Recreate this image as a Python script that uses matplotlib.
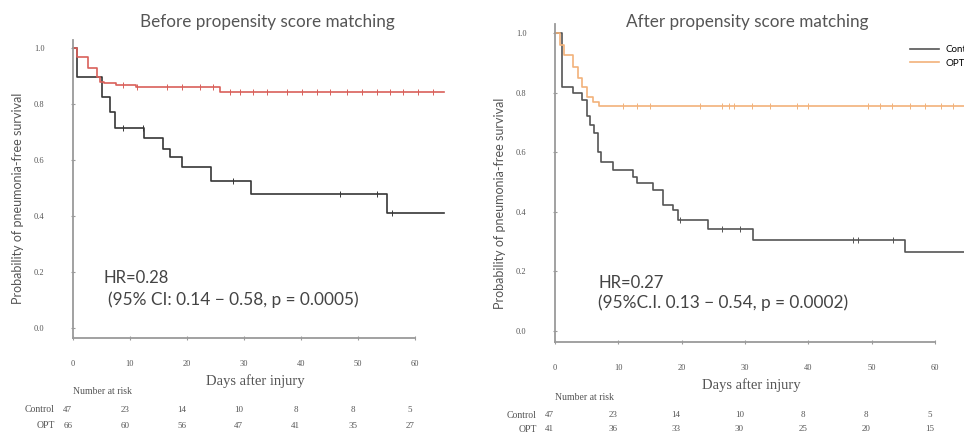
import numpy as np
import matplotlib.pyplot as plt
import matplotlib.transforms as mtransforms

# Kaplan-Meier step data (days, survival after step)
before_ctrl_t = [0, 0.7, 5.1, 6.5, 7.4, 12.5, 15.8, 17, 19.1, 24.2, 31.2, 55.0, 65]
before_ctrl_s = [1.0, 0.896, 0.825, 0.77, 0.714, 0.68, 0.64, 0.61, 0.575, 0.525, 0.48, 0.41, 0.41]
before_ctrl_cens = [8.8, 12.3, 28.0, 46.8, 53.3, 56.0]

before_opt_t = [0, 0.7, 2.6, 4.2, 4.8, 5.5, 7.5, 11, 25.8, 65]
before_opt_s = [1.0, 0.968, 0.93, 0.896, 0.88, 0.875, 0.868, 0.86, 0.843, 0.843]
before_opt_cens = [8.8, 11.2, 16.5, 19.1, 22.3, 24.6, 27.5, 29.3, 31.6, 34.0, 37.5, 40.2,
                   42.8, 45.1, 48.1, 50.7, 53.3, 55.6, 57.9, 60.5, 63.2]

after_ctrl_t = [0, 1.1, 2.8, 4.2, 5.0, 5.5, 6.2, 6.8, 7.2, 9.2, 12.3, 13.0, 15.5, 17.0,
                18.6, 19.4, 24.2, 31.3, 55.3, 65]
after_ctrl_s = [1.0, 0.82, 0.80, 0.775, 0.72, 0.69, 0.664, 0.60, 0.567, 0.54, 0.517, 0.497,
                0.473, 0.423, 0.406, 0.372, 0.342, 0.305, 0.265, 0.265]
after_ctrl_cens = [19.7, 26.4, 29.2, 47.0, 47.8, 53.4]

after_opt_t = [0, 0.8, 1.5, 2.8, 3.6, 4.2, 5.0, 6.0, 7.0, 65]
after_opt_s = [1.0, 0.96, 0.925, 0.886, 0.85, 0.82, 0.785, 0.77, 0.756, 0.756]
after_opt_cens = [10.7, 13.0, 15.0, 22.9, 26.4, 27.4, 28.2, 31.1, 34.0, 38.2, 40.0,
                  49.4, 51.3, 53.2, 56.0, 58.4, 61.0, 62.8]

risk_days = [0, 10, 20, 30, 40, 50, 60]
before_risk_ctrl = [47, 23, 14, 10, 8, 8, 5]
before_risk_opt = [66, 60, 56, 47, 41, 35, 27]
after_risk_ctrl = [47, 23, 14, 10, 8, 8, 5]
after_risk_opt = [41, 36, 33, 30, 25, 20, 15]

titles = ['Before propensity score matching', 'After propensity score matching']
hr_lines = [('HR=0.28', '(95% CI: 0.14 \u2212 0.58, p = 0.0005)'),
            ('HR=0.27', '(95%C.I. 0.13 \u2212 0.54, p = 0.0002)')]


def step_value(times, surv, x):
    idx = np.searchsorted(times, x, side='right') - 1
    return np.asarray(surv)[idx]


W, H = 964, 433
fig = plt.figure(figsize=(W / 100, H / 100), dpi=100)


def fx(px):
    return px / W


def fy(py):
    return 1 - py / H


sans = ['Lato', 'DejaVu Sans']
serif = ['Liberation Serif', 'DejaVu Serif']
txt = '#555555'

# per panel pixel layout: x of day 0, px per day, y of 1.0, px per unit, x-axis y
boxes = [(73, 5.7, 48, 280, 338), (555, 6.333, 33, 298, 342)]
title_pos = [(267, 22), (747, 22)]
xlabel_pos = [(255, 381), (751, 385)]
ylabel_x = [18, 500]
ylabel_y = [198, 203]
risk_y = [(391, 410, 426), (397, 415, 429)]
hr_pos = [((5.3, 0.179), (6.1, 0.10)), ((6.8, 0.161), (6.8, 0.094))]

panels = [
    (before_ctrl_t, before_ctrl_s, before_ctrl_cens, before_opt_t, before_opt_s, before_opt_cens,
     before_risk_ctrl, before_risk_opt, '#363636', '#d9605a'),
    (after_ctrl_t, after_ctrl_s, after_ctrl_cens, after_opt_t, after_opt_s, after_opt_cens,
     after_risk_ctrl, after_risk_opt, '#555555', '#f2b27a'),
]

for k, (x0, ppd, y1, ppu, yax) in enumerate(boxes):
    ct, cs, cc, ot, os_, oc, rc, ro, col_c, col_o = panels[k]
    xmax = 65
    ymin = -(yax - (y1 + ppu)) / ppu
    ymax = 1.03
    top_px = y1 - (ymax - 1) * ppu
    ax = fig.add_axes([fx(x0), fy(yax), xmax * ppd / W, (yax - top_px) / H])
    ax.set_xlim(0, xmax)
    ax.set_ylim(ymin, ymax)

    ax.step(ct, cs, where='post', color=col_c, lw=1.2, label='Control', clip_on=False)
    ax.step(ot, os_, where='post', color=col_o, lw=1.2, label='OPT', clip_on=False)
    ax.plot(cc, step_value(ct, cs, cc), ls='none', marker='|', ms=4, mew=0.7, color=col_c,
            clip_on=False)
    ax.plot(oc, step_value(ot, os_, oc), ls='none', marker='|', ms=4, mew=0.7, color=col_o,
            clip_on=False)

    for side in ['top', 'right']:
        ax.spines[side].set_visible(False)
    for side in ['left', 'bottom']:
        ax.spines[side].set_color('#9a9a9a')
        ax.spines[side].set_linewidth(1.3)
    ax.spines['bottom'].set_bounds(0, 60)
    ax.set_xticks(risk_days)
    ax.set_yticks([0, 0.2, 0.4, 0.6, 0.8, 1.0])
    ax.set_yticklabels(['0.0', '0.2', '0.4', '0.6', '0.8', '1.0'])
    ax.tick_params(axis='both', colors='#9a9a9a', labelcolor=txt, labelsize=6,
                   length=3, width=0.8, direction='inout')
    ax.tick_params(axis='x', pad=14)
    ax.tick_params(axis='y', pad=19)
    for lab in ax.get_xticklabels() + ax.get_yticklabels():
        lab.set_family(serif)

    tx, ty = title_pos[k]
    fig.text(fx(tx), fy(ty), titles[k], fontsize=12.3, color=txt, family=sans,
             ha='center', va='center')
    lx, ly = xlabel_pos[k]
    fig.text(fx(lx), fy(ly), 'Days after injury', fontsize=10.5, color=txt, family=serif,
             ha='center', va='center')
    fig.text(fx(ylabel_x[k]), fy(ylabel_y[k]), 'Probability of pneumonia-free survival',
             fontsize=9, color=txt, family=sans, rotation=90, ha='center', va='center')

    (hx, hy), (cx, cy) = hr_pos[k]
    hr, ci = hr_lines[k]
    ax.text(hx, hy, hr, fontsize=12, color='#444444', family=sans, va='center')
    ax.text(cx, cy, ci, fontsize=12.4, color='#444444', family=sans, va='center')

    # number at risk table
    trans = mtransforms.blended_transform_factory(ax.transData, fig.transFigure)
    yh, yc, yo = risk_y[k]
    fig.text(fx(x0), fy(yh), 'Number at risk', fontsize=7, color=txt,
             family=serif, ha='left', va='center')
    fig.text(fx(x0 - 18), fy(yc), 'Control', fontsize=7, color=txt,
             family=serif, ha='right', va='center')
    fig.text(fx(x0 - 18), fy(yo), 'OPT', fontsize=7, color=txt,
             family=serif, ha='right', va='center')
    for d, a, b in zip(risk_days, rc, ro):
        ax.text(d - 0.9, fy(yc), str(a), transform=trans, fontsize=6.5, color=txt,
                family=serif, ha='center', va='center')
        ax.text(d - 0.9, fy(yo), str(b), transform=trans, fontsize=6.5, color=txt,
                family=serif, ha='center', va='center')

    if k == 1:
        ax.legend(loc='upper left', bbox_to_anchor=(fx(910), fy(45)),
                  bbox_transform=fig.transFigure, frameon=False,
                  handlelength=3.0, handletextpad=0.6, borderpad=0, borderaxespad=0,
                  labelspacing=0.5, prop={'family': sans, 'size': 7})

fig.savefig('out.png', dpi=100)
